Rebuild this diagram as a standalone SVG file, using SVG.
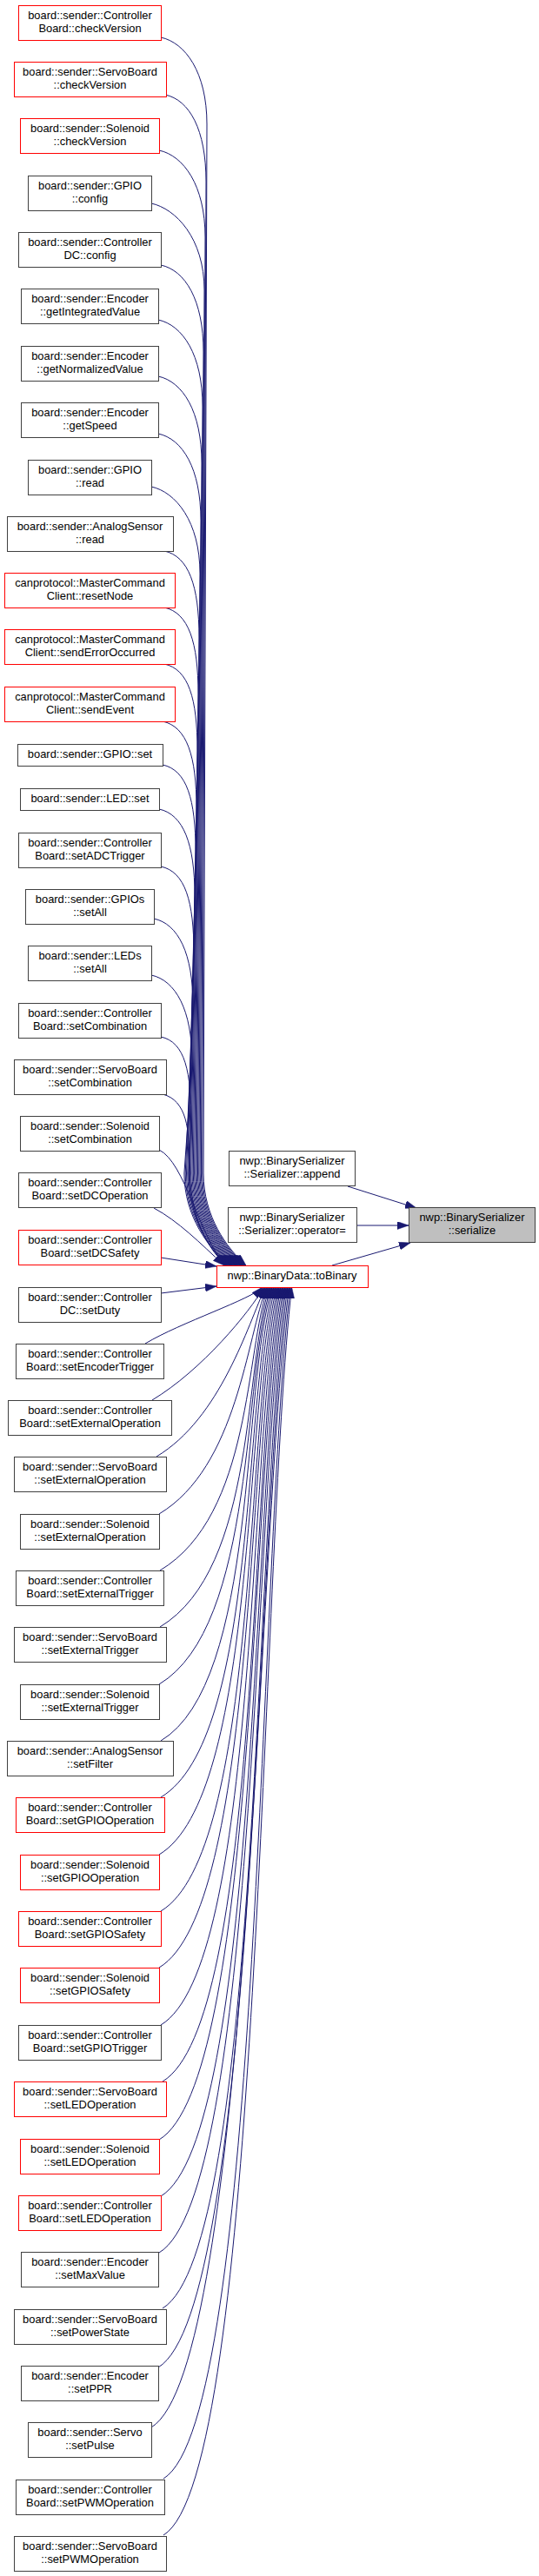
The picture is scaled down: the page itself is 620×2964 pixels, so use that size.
<svg xmlns="http://www.w3.org/2000/svg" width="620" height="2964" viewBox="0 0 620 2964">
<style>
.n rect{fill:#fff;stroke:#404040;stroke-width:1}
.n.r rect{stroke:#ff0000}
.n.g rect{fill:#bfbfbf}
text{font-family:"Liberation Sans",Arial,Helvetica,sans-serif;font-size:12.9px;text-anchor:middle;fill:#000}
.e path{fill:none;stroke:#191970;stroke-width:1;marker-end:url(#a)}
</style>
<defs>
<marker id="a" markerUnits="userSpaceOnUse" markerWidth="13" markerHeight="9" refX="13" refY="4.5" orient="auto" viewBox="0 0 13 9"><path d="M0,0 L13,4.5 L0,9 Z" fill="#191970" stroke="#191970" stroke-width="0.5"/></marker>
</defs>
<rect width="620" height="2964" fill="#fff"/>
<g id="edges" class="e">
<path d="M185,43 C213,49 238,83 238,143 L234,1350 C234,1400 261,1436 283,1456"/>
<path d="M190,109 C218,115 237,149 237,209 L232.7,1350 C232.7,1400 259.8,1436 281.8,1456"/>
<path d="M183,173 C211,179 236,213 236,273 L231.4,1350 C231.4,1400 258.6,1436 280.6,1456"/>
<path d="M174,234 C202,240 235,274 235,334 L230.1,1350 C230.1,1400 257.4,1436 279.4,1456"/>
<path d="M185,305 C213,311 234,345 234,405 L228.8,1350 C228.8,1400 256.2,1436 278.2,1456"/>
<path d="M182,368 C210,374 233,408 233,468 L227.5,1350 C227.5,1400 255,1436 277,1456"/>
<path d="M182,433 C210,439 232,473 232,533 L226.2,1350 C226.2,1400 253.8,1436 275.8,1456"/>
<path d="M182,499 C210,505 231,539 231,599 L224.9,1350 C224.9,1400 252.6,1436 274.6,1456"/>
<path d="M174,560 C202,566 230,600 230,660 L223.6,1350 C223.6,1400 251.4,1436 273.4,1456"/>
<path d="M189,634 C217,640 229,674 229,734 L222.3,1350 C222.3,1400 250.2,1436 272.2,1456"/>
<path d="M189,699 C217,705 228,739 228,799 L221,1350 C221,1400 249,1436 271,1456"/>
<path d="M189,764 C217,770 227,804 227,864 L219.7,1350 C219.7,1400 247.8,1436 269.8,1456"/>
<path d="M187,830 C215,836 226,870 226,930 L218.4,1350 C218.4,1400 246.6,1436 268.6,1456"/>
<path d="M187,880 C215,886 225,920 225,980 L217.1,1350 C217.1,1400 245.4,1436 267.4,1456"/>
<path d="M183,931 C211,937 224,971 224,1031 L215.8,1350 C215.8,1400 244.2,1436 266.2,1456"/>
<path d="M185,997 C213,1003 223,1037 223,1097 L214.5,1350 C214.5,1400 243,1436 265,1456"/>
<path d="M177,1057 C205,1063 222,1097 222,1157 L213.2,1350 C213.2,1400 241.8,1436 263.8,1456"/>
<path d="M174,1122 C202,1128 221,1162 221,1222 L211.9,1350 C211.9,1400 240.6,1436 262.6,1456"/>
<path d="M185,1193 C213,1199 220,1233 220,1293 L217,1350 C217,1400 239.4,1436 261.4,1456"/>
<path d="M187,1259 C215,1266 218,1300 218,1340 C218,1400 238.2,1436 260.2,1456"/>
<path d="M183,1323 C213,1338 228,1420 259,1456"/>
<path d="M177,1390 C205,1405 230,1430 257.8,1456"/>
<path d="M185,1447 L249,1457"/>
<path d="M185,1488 L249,1480"/>
<path d="M167,1546 C208.3,1521.3 288.8,1495.3 302,1481"/>
<path d="M175,1611 C232.5,1576.5 287.1,1509.6 303.6,1481"/>
<path d="M180,1676 C253.8,1631.8 285.5,1523.9 305.2,1481"/>
<path d="M183,1742 C273.3,1687.9 283.8,1538.4 306.8,1481"/>
<path d="M184,1807 C290.5,1743.1 282.1,1552.7 308.4,1481"/>
<path d="M184,1872 C296,1804.8 280.5,1567 310,1481"/>
<path d="M183,1938 C295,1870.8 278.8,1581.5 311.6,1481"/>
<path d="M185,2003 C297,1935.8 277.2,1595.8 313.2,1481"/>
<path d="M185,2068 C297,2000.8 278.8,1610.1 314.8,1481"/>
<path d="M183,2134 C295,2066.8 280.4,1624.7 316.4,1481"/>
<path d="M185,2199 C297,2131.8 282,1639 318,1481"/>
<path d="M183,2264 C295,2196.8 283.6,1653.3 319.6,1481"/>
<path d="M185,2330 C297,2262.8 285.2,1667.8 321.2,1481"/>
<path d="M187,2395 C299,2327.8 286.8,1682.1 322.8,1481"/>
<path d="M183,2462 C295,2394.8 288.4,1696.8 324.4,1481"/>
<path d="M185,2527 C297,2459.8 290,1711.1 326,1481"/>
<path d="M183,2592 C295,2524.8 291.6,1725.4 327.6,1481"/>
<path d="M187,2656 C299,2588.8 293.2,1739.5 329.2,1481"/>
<path d="M182,2724 C294,2656.8 294.8,1754.5 330.8,1481"/>
<path d="M174,2793 C286,2725.8 296.4,1769.6 332.4,1481"/>
<path d="M188,2852 C300,2784.8 298,1782.6 334,1481"/>
<path d="M188,2917 C300,2849.8 299.6,1796.9 335.6,1481"/>
<path d="M382,1456 L472,1430"/>
<path d="M400,1365 L479,1390"/>
<path d="M410,1410 L470,1410"/>
</g>
<g id="n1" class="n r"><rect x="21.5" y="6.5" width="164" height="40"/><text x="103.5" y="22">board::sender::Controller</text><text x="103.5" y="37">Board::checkVersion</text></g>
<g id="n2" class="n r"><rect x="16.5" y="71.5" width="175" height="40"/><text x="103.5" y="87">board::sender::ServoBoard</text><text x="103.5" y="102">::checkVersion</text></g>
<g id="n3" class="n r"><rect x="23.5" y="136.5" width="160" height="40"/><text x="103.5" y="152">board::sender::Solenoid</text><text x="103.5" y="167">::checkVersion</text></g>
<g id="n4" class="n"><rect x="32.5" y="202.5" width="142" height="40"/><text x="103.5" y="218">board::sender::GPIO</text><text x="103.5" y="233">::config</text></g>
<g id="n5" class="n"><rect x="21.5" y="267.5" width="164" height="40"/><text x="103.5" y="283">board::sender::Controller</text><text x="103.5" y="298">DC::config</text></g>
<g id="n6" class="n"><rect x="24.5" y="332.5" width="158" height="40"/><text x="103.5" y="348">board::sender::Encoder</text><text x="103.5" y="363">::getIntegratedValue</text></g>
<g id="n7" class="n"><rect x="24.5" y="398.5" width="158" height="40"/><text x="103.5" y="414">board::sender::Encoder</text><text x="103.5" y="429">::getNormalizedValue</text></g>
<g id="n8" class="n"><rect x="24.5" y="463.5" width="158" height="40"/><text x="103.5" y="479">board::sender::Encoder</text><text x="103.5" y="494">::getSpeed</text></g>
<g id="n9" class="n"><rect x="32.5" y="529.5" width="142" height="40"/><text x="103.5" y="545">board::sender::GPIO</text><text x="103.5" y="560">::read</text></g>
<g id="n10" class="n"><rect x="8.5" y="594.5" width="191" height="40"/><text x="103.5" y="610">board::sender::AnalogSensor</text><text x="103.5" y="625">::read</text></g>
<g id="n11" class="n r"><rect x="5.5" y="659.5" width="196" height="40"/><text x="103.5" y="675">canprotocol::MasterCommand</text><text x="103.5" y="690">Client::resetNode</text></g>
<g id="n12" class="n r"><rect x="5.5" y="724.5" width="196" height="40"/><text x="103.5" y="740">canprotocol::MasterCommand</text><text x="103.5" y="755">Client::sendErrorOccurred</text></g>
<g id="n13" class="n r"><rect x="5.5" y="790.5" width="196" height="40"/><text x="103.5" y="806">canprotocol::MasterCommand</text><text x="103.5" y="821">Client::sendEvent</text></g>
<g id="n14" class="n"><rect x="20.5" y="856.5" width="167" height="25"/><text x="103.5" y="872">board::sender::GPIO::set</text></g>
<g id="n15" class="n"><rect x="23.5" y="907.5" width="160" height="25"/><text x="103.5" y="923">board::sender::LED::set</text></g>
<g id="n16" class="n"><rect x="21.5" y="958.5" width="164" height="40"/><text x="103.5" y="974">board::sender::Controller</text><text x="103.5" y="989">Board::setADCTrigger</text></g>
<g id="n17" class="n"><rect x="29.5" y="1023.5" width="148" height="40"/><text x="103.5" y="1039">board::sender::GPIOs</text><text x="103.5" y="1054">::setAll</text></g>
<g id="n18" class="n"><rect x="32.5" y="1088.5" width="142" height="40"/><text x="103.5" y="1104">board::sender::LEDs</text><text x="103.5" y="1119">::setAll</text></g>
<g id="n19" class="n"><rect x="21.5" y="1154.5" width="164" height="40"/><text x="103.5" y="1170">board::sender::Controller</text><text x="103.5" y="1185">Board::setCombination</text></g>
<g id="n20" class="n"><rect x="16.5" y="1219.5" width="175" height="40"/><text x="103.5" y="1235">board::sender::ServoBoard</text><text x="103.5" y="1250">::setCombination</text></g>
<g id="n21" class="n"><rect x="23.5" y="1284.5" width="160" height="40"/><text x="103.5" y="1300">board::sender::Solenoid</text><text x="103.5" y="1315">::setCombination</text></g>
<g id="n22" class="n"><rect x="21.5" y="1349.5" width="164" height="40"/><text x="103.5" y="1365">board::sender::Controller</text><text x="103.5" y="1380">Board::setDCOperation</text></g>
<g id="n23" class="n r"><rect x="21.5" y="1415.5" width="164" height="40"/><text x="103.5" y="1431">board::sender::Controller</text><text x="103.5" y="1446">Board::setDCSafety</text></g>
<g id="n24" class="n"><rect x="21.5" y="1481.5" width="164" height="40"/><text x="103.5" y="1497">board::sender::Controller</text><text x="103.5" y="1512">DC::setDuty</text></g>
<g id="n25" class="n"><rect x="18.5" y="1546.5" width="170" height="40"/><text x="103.5" y="1562">board::sender::Controller</text><text x="103.5" y="1577">Board::setEncoderTrigger</text></g>
<g id="n26" class="n"><rect x="9.5" y="1611.5" width="188" height="40"/><text x="103.5" y="1627">board::sender::Controller</text><text x="103.5" y="1642">Board::setExternalOperation</text></g>
<g id="n27" class="n"><rect x="16.5" y="1676.5" width="175" height="40"/><text x="103.5" y="1692">board::sender::ServoBoard</text><text x="103.5" y="1707">::setExternalOperation</text></g>
<g id="n28" class="n"><rect x="23.5" y="1742.5" width="160" height="40"/><text x="103.5" y="1758">board::sender::Solenoid</text><text x="103.5" y="1773">::setExternalOperation</text></g>
<g id="n29" class="n"><rect x="18.5" y="1807.5" width="170" height="40"/><text x="103.5" y="1823">board::sender::Controller</text><text x="103.5" y="1838">Board::setExternalTrigger</text></g>
<g id="n30" class="n"><rect x="16.5" y="1872.5" width="175" height="40"/><text x="103.5" y="1888">board::sender::ServoBoard</text><text x="103.5" y="1903">::setExternalTrigger</text></g>
<g id="n31" class="n"><rect x="23.5" y="1938.5" width="160" height="40"/><text x="103.5" y="1954">board::sender::Solenoid</text><text x="103.5" y="1969">::setExternalTrigger</text></g>
<g id="n32" class="n"><rect x="8.5" y="2003.5" width="191" height="40"/><text x="103.5" y="2019">board::sender::AnalogSensor</text><text x="103.5" y="2034">::setFilter</text></g>
<g id="n33" class="n r"><rect x="18.5" y="2068.5" width="171" height="40"/><text x="103.5" y="2084">board::sender::Controller</text><text x="103.5" y="2099">Board::setGPIOOperation</text></g>
<g id="n34" class="n r"><rect x="23.5" y="2134.5" width="160" height="40"/><text x="103.5" y="2150">board::sender::Solenoid</text><text x="103.5" y="2165">::setGPIOOperation</text></g>
<g id="n35" class="n r"><rect x="21.5" y="2199.5" width="164" height="40"/><text x="103.5" y="2215">board::sender::Controller</text><text x="103.5" y="2230">Board::setGPIOSafety</text></g>
<g id="n36" class="n r"><rect x="23.5" y="2264.5" width="160" height="40"/><text x="103.5" y="2280">board::sender::Solenoid</text><text x="103.5" y="2295">::setGPIOSafety</text></g>
<g id="n37" class="n"><rect x="21.5" y="2330.5" width="164" height="40"/><text x="103.5" y="2346">board::sender::Controller</text><text x="103.5" y="2361">Board::setGPIOTrigger</text></g>
<g id="n38" class="n r"><rect x="16.5" y="2395.5" width="175" height="40"/><text x="103.5" y="2411">board::sender::ServoBoard</text><text x="103.5" y="2426">::setLEDOperation</text></g>
<g id="n39" class="n r"><rect x="23.5" y="2461.5" width="160" height="40"/><text x="103.5" y="2477">board::sender::Solenoid</text><text x="103.5" y="2492">::setLEDOperation</text></g>
<g id="n40" class="n r"><rect x="21.5" y="2526.5" width="164" height="40"/><text x="103.5" y="2542">board::sender::Controller</text><text x="103.5" y="2557">Board::setLEDOperation</text></g>
<g id="n41" class="n"><rect x="24.5" y="2591.5" width="158" height="40"/><text x="103.5" y="2607">board::sender::Encoder</text><text x="103.5" y="2622">::setMaxValue</text></g>
<g id="n42" class="n"><rect x="16.5" y="2657.5" width="175" height="40"/><text x="103.5" y="2673">board::sender::ServoBoard</text><text x="103.5" y="2688">::setPowerState</text></g>
<g id="n43" class="n"><rect x="24.5" y="2722.5" width="158" height="40"/><text x="103.5" y="2738">board::sender::Encoder</text><text x="103.5" y="2753">::setPPR</text></g>
<g id="n44" class="n"><rect x="32.5" y="2787.5" width="142" height="40"/><text x="103.5" y="2803">board::sender::Servo</text><text x="103.5" y="2818">::setPulse</text></g>
<g id="n45" class="n"><rect x="18.5" y="2853.5" width="171" height="40"/><text x="103.5" y="2869">board::sender::Controller</text><text x="103.5" y="2884">Board::setPWMOperation</text></g>
<g id="n46" class="n"><rect x="16.5" y="2918.5" width="175" height="40"/><text x="103.5" y="2934">board::sender::ServoBoard</text><text x="103.5" y="2949">::setPWMOperation</text></g>
<g id="toBinary" class="n r"><rect x="249.5" y="1456.5" width="174" height="25"/><text x="336" y="1472">nwp::BinaryData::toBinary</text></g>
<g id="append" class="n"><rect x="263.5" y="1324.5" width="145" height="40"/><text x="336" y="1340">nwp::BinarySerializer</text><text x="336" y="1355">::Serializer::append</text></g>
<g id="opassign" class="n"><rect x="262.5" y="1389.5" width="148" height="40"/><text x="336" y="1405">nwp::BinarySerializer</text><text x="336" y="1420">::Serializer::operator=</text></g>
<g id="serialize" class="n g"><rect x="470.5" y="1389.5" width="145" height="40"/><text x="543" y="1405">nwp::BinarySerializer</text><text x="543" y="1420">::serialize</text></g>
</svg>
